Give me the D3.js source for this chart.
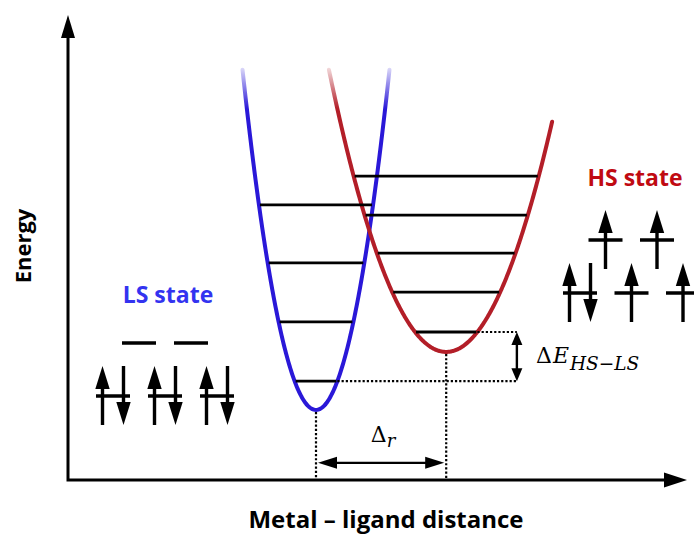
<!DOCTYPE html>
<html>
<head>
<meta charset="utf-8">
<script src="https://cdn.jsdelivr.net/npm/d3@7"></script>
<style>
  html, body { margin: 0; padding: 0; background: #fff; }
  svg { display: block; }
</style>
</head>
<body>
<script>
// Potential wells (harmonic): vertex distance r0, vertex energy E0, curvature k
const wellNames   = ["LS", "HS"];
const wellR0      = [40.0, 61.0];
const wellE0      = [15.1, 27.6];
const wellK       = [0.522, 0.170];
const wellTopLeft = [88.4, 88.4];   // energy where the left branch ends
const wellTopRight= [88.4, 77.2];   // energy where the right branch ends

// Vibrational levels of each well
const lsLevels = [21.3, 34.1, 46.8, 59.3];
const hsLevels = [31.9, 40.5, 48.9, 57.1, 65.5];

// d-electron occupancy (t2g then eg)
const lsT2g = [2, 2, 2];
const lsEg  = [0, 0];
const hsT2g = [2, 1, 1];
const hsEg  = [1, 1];

// Texts
const yTitle   = "Energy";
const xTitle   = "Metal \u2013 ligand distance";
const lsLabel  = "LS state";
const hsLabel  = "HS state";

const W = 694, H = 534;
const x = d3.scaleLinear().domain([0, 100]).range([68, 688]);
const y = d3.scaleLinear().domain([0, 100]).range([480, 16]);

const wellColor  = ["#2a18d8", "#b31e28"];
const labelColor = ["#3333f0", "#c00a12"];
const sansFont = "'Open Sans', Lato, sans-serif";
const mathFont = "'DejaVu Serif', serif";

const svg = d3.select("body").append("svg").attr("width", W).attr("height", H);
const defs = svg.append("defs");

// ---------- helpers ----------
function head(g, tx, ty, dx, dy, len, half) {
  // filled triangular arrowhead with tip at (tx,ty) pointing along (dx,dy)
  const bx = tx - dx * len, by = ty - dy * len;
  const px = -dy * half, py = dx * half;
  g.append("path")
    .attr("d", `M${tx},${ty}L${bx + px},${by + py}L${bx - px},${by - py}Z`)
    .attr("fill", "#000");
}

function inverseBranch(i, E, side) {
  return wellR0[i] + side * Math.sqrt(Math.max(0, E - wellE0[i]) / wellK[i]);
}

// ---------- axes ----------
const axes = svg.append("g");
axes.append("path")
  .attr("d", `M${x(0)},${y(100) + 20}V${y(0)}H${x(100) - 20}`)
  .attr("fill", "none").attr("stroke", "#000").attr("stroke-width", 3);
head(axes, x(0), y(100) - 1, 0, -1, 23, 7);
head(axes, x(100) - 1, y(0), 1, 0, 23, 7.5);

svg.append("text")
  .attr("transform", `translate(22,${246}) rotate(-90)`)
  .attr("text-anchor", "middle").attr("dominant-baseline", "central")
  .style("font-family", sansFont).style("font-weight", 700)
  .style("font-size", "22px").attr("fill", "#000")
  .text(yTitle);

svg.append("text")
  .attr("x", 386).attr("y", 528).attr("text-anchor", "middle")
  .style("font-family", sansFont).style("font-weight", 700)
  .style("font-size", "24px").attr("fill", "#000")
  .text(xTitle);

// ---------- wells ----------
wellNames.forEach((name, i) => {
  const grad = defs.append("linearGradient")
    .attr("id", "fade" + name).attr("gradientUnits", "userSpaceOnUse")
    .attr("x1", 0).attr("x2", 0).attr("y1", y(89)).attr("y2", y(80));
  grad.append("stop").attr("offset", 0).attr("stop-color", wellColor[i]).attr("stop-opacity", 0.15);
  grad.append("stop").attr("offset", 1).attr("stop-color", wellColor[i]).attr("stop-opacity", 1);

  const r1 = inverseBranch(i, wellTopLeft[i], -1);
  const r2 = inverseBranch(i, wellTopRight[i], 1);
  const pts = d3.range(r1, r2, 0.1).concat([r2])
    .map(r => [r, wellE0[i] + wellK[i] * (r - wellR0[i]) ** 2]);
  svg.append("path")
    .datum(pts)
    .attr("d", d3.line().x(d => x(d[0])).y(d => y(d[1])).curve(d3.curveBasis))
    .attr("fill", "none")
    .attr("stroke", `url(#fade${name})`)
    .attr("stroke-width", 4)
    .attr("stroke-linecap", "round");
});

// Vibrational levels, spanning each well wall to wall
[lsLevels, hsLevels].forEach((levels, i) => {
  svg.append("g").selectAll("line").data(levels).join("line")
    .attr("x1", E => x(inverseBranch(i, E, -1)) + 1)
    .attr("x2", E => x(inverseBranch(i, E, 1)) - 1)
    .attr("y1", E => y(E)).attr("y2", E => y(E))
    .attr("stroke", "#000").attr("stroke-width", 2.8);
});

// ---------- annotations ----------
const dotted = svg.append("g")
  .attr("stroke", "#000").attr("stroke-width", 2.2).attr("stroke-dasharray", "2.2,2").attr("fill", "none");
const bracketR = 72.4;
const lsGround = lsLevels[0], hsGround = hsLevels[0];
dotted.append("line")
  .attr("x1", x(inverseBranch(0, lsGround, 1))).attr("x2", x(bracketR))
  .attr("y1", y(lsGround)).attr("y2", y(lsGround));
dotted.append("line")
  .attr("x1", x(inverseBranch(1, hsGround, 1))).attr("x2", x(bracketR))
  .attr("y1", y(hsGround)).attr("y2", y(hsGround));
wellNames.forEach((n, i) => {
  dotted.append("line")
    .attr("x1", x(wellR0[i])).attr("x2", x(wellR0[i]))
    .attr("y1", y(wellE0[i]) + 2).attr("y2", y(0));
});

const ann = svg.append("g");
// ΔE double arrow
const ax = x(bracketR), yTop = y(hsGround), yBot = y(lsGround);
ann.append("line").attr("x1", ax).attr("x2", ax).attr("y1", yTop + 10).attr("y2", yBot - 10)
  .attr("stroke", "#000").attr("stroke-width", 2.4);
head(ann, ax, yTop, 0, -1, 13, 5.5);
head(ann, ax, yBot, 0, 1, 13, 5.5);

// Δr double arrow
const arY = y(3.7), xa = x(wellR0[0]), xb = x(wellR0[1]);
ann.append("line").attr("x1", xa + 10).attr("x2", xb - 10).attr("y1", arY).attr("y2", arY)
  .attr("stroke", "#000").attr("stroke-width", 2.4);
head(ann, xa + 2, arY, -1, 0, 19, 6);
head(ann, xb - 2, arY, 1, 0, 19, 6);

const dE = svg.append("text").attr("x", 536).attr("y", 363)
  .style("font-family", mathFont).style("font-size", "22px").attr("fill", "#000");
dE.append("tspan").text("\u0394");
dE.append("tspan").attr("dx", 1).style("font-style", "italic").text("E");
dE.append("tspan").attr("dy", 7).attr("dx", 1).style("font-style", "italic").style("font-size", "18.5px")
  .text("HS\u2212LS");

const dR = svg.append("text").attr("x", (xa + xb) / 2 + 2).attr("y", 442).attr("text-anchor", "middle")
  .style("font-family", mathFont).style("font-size", "22px").attr("fill", "#000");
dR.append("tspan").text("\u0394");
dR.append("tspan").attr("dy", 5).style("font-style", "italic").style("font-size", "18px").text("r");

// ---------- state labels ----------
svg.append("text").attr("x", 168).attr("y", 303).attr("text-anchor", "middle")
  .style("font-family", sansFont).style("font-weight", 700)
  .style("font-size", "23px").attr("fill", labelColor[0]).text(lsLabel);
svg.append("text").attr("x", 635).attr("y", 186).attr("text-anchor", "middle")
  .style("font-family", sansFont).style("font-weight", 700)
  .style("font-size", "23px").attr("fill", labelColor[1]).text(hsLabel);

// ---------- orbital diagrams ----------
function spinArrow(g, cx, cy, up) {
  const top = cy - 30, bot = cy + 29;
  if (up) {
    g.append("line").attr("x1", cx).attr("x2", cx).attr("y1", bot).attr("y2", top + 15)
      .attr("stroke", "#000").attr("stroke-width", 3.4);
    head(g, cx, top, 0, -1, 23, 7.2);
  } else {
    g.append("line").attr("x1", cx).attr("x2", cx).attr("y1", top).attr("y2", bot - 15)
      .attr("stroke", "#000").attr("stroke-width", 3.4);
    head(g, cx, bot, 0, 1, 23, 7.2);
  }
}

function orbitals(occ, x0, dx, yy) {
  const g = svg.append("g");
  occ.forEach((n, j) => {
    const cx = x0 + j * dx;
    g.append("line").attr("x1", cx - 17).attr("x2", cx + 17).attr("y1", yy).attr("y2", yy)
      .attr("stroke", "#000").attr("stroke-width", 3.4);
    if (n === 1) spinArrow(g, cx, yy, true);
    if (n === 2) { spinArrow(g, cx - 10.5, yy, true); spinArrow(g, cx + 10.5, yy, false); }
  });
}

orbitals(lsT2g, 113, 52, 396);
orbitals(lsEg, 139, 52, 343);
orbitals(hsT2g, 580, 51.5, 293);
orbitals(hsEg, 605.5, 51.5, 240);
</script>
</body>
</html>
